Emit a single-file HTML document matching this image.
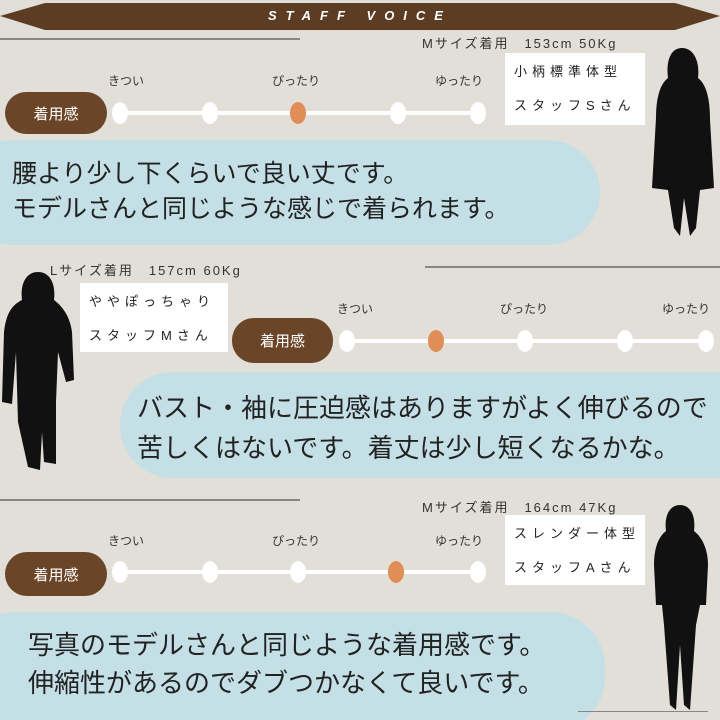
<!DOCTYPE html>
<html><head><meta charset="utf-8"><style>
*{margin:0;padding:0;box-sizing:border-box}
html,body{width:720px;height:720px;overflow:hidden}
body{background:#e2ded8;position:relative;font-family:"Liberation Sans","Noto Sans CJK JP",sans-serif;color:#222}
.a{position:absolute;white-space:nowrap}
.hl{position:absolute;height:2px;background:#8a8580}
.info{font-size:13px;letter-spacing:2px;color:#333}
.lab{font-size:12px;color:#333}
.pill{position:absolute;background:#6b4527;color:#fff;border-radius:22px;font-size:15px;display:flex;align-items:center;justify-content:center}
.bar{position:absolute;height:4px;background:#fff}
.dot{position:absolute;width:16px;height:22px;border-radius:50%;background:#fff;margin-left:-8px;margin-top:-11px}
.dot.o{background:#e08d58}
.box{position:absolute;background:#fff;font-size:13px;letter-spacing:5px;line-height:34px;padding-left:9px;padding-top:2px;color:#222;white-space:nowrap;overflow:hidden}
.bub{position:absolute;background:#c4dfe6;border-radius:55px;font-size:25px;line-height:35px;color:#222;white-space:nowrap}
</style></head><body>
<svg class="a" style="left:0;top:0" width="720" height="32"><polygon points="0,16 45,3 675,3 720,16 675,30 45,30" fill="#5c3d23"/></svg>
<div class="a" style="left:0;top:8px;width:720px;text-align:center;color:#fff;font-size:13px;font-weight:bold;font-style:italic;letter-spacing:9px">STAFF VOICE</div>

<!-- section 1 -->
<div class="hl" style="left:0;top:38px;width:300px"></div>
<div class="a info" style="left:422px;top:33px">Mサイズ着用　153cm 50Kg</div>
<div class="a lab" style="left:108px;top:72px">きつい</div>
<div class="a lab" style="left:272px;top:72px">ぴったり</div>
<div class="a lab" style="left:435px;top:72px">ゆったり</div>
<div class="pill" style="left:5px;top:92px;width:102px;height:42px">着用感</div>
<div class="bar" style="left:120px;top:111px;width:358px"></div>
<div class="dot" style="left:120px;top:113px"></div><div class="dot" style="left:210px;top:113px"></div><div class="dot o" style="left:298px;top:113px"></div><div class="dot" style="left:398px;top:113px"></div><div class="dot" style="left:478px;top:113px"></div>
<div class="box" style="left:505px;top:53px;width:140px;height:72px">小柄標準体型<br>スタッフSさん</div>
<div class="bub" style="left:-40px;top:140px;width:640px;height:105px;padding:17px 0 0 52px">腰より少し下くらいで良い丈です。<br>モデルさんと同じような感じで着られます。</div>
<svg class="a" style="left:648px;top:48px" width="70" height="190"><path d="M34 0 C22 0 18 14 20 30 C12 36 8 50 8 70 L4 140 L20 142 L26 180 L32 188 L36 150 L42 188 L48 180 L52 142 L66 140 L62 72 C62 50 58 36 50 30 C52 14 46 0 34 0Z" fill="#111"/></svg>

<!-- section 2 -->
<div class="a info" style="left:50px;top:260px">Lサイズ着用　157cm 60Kg</div>
<div class="hl" style="left:425px;top:266px;width:295px"></div>
<div class="box" style="left:80px;top:283px;width:148px;height:69px">ややぽっちゃり<br>スタッフMさん</div>
<div class="a lab" style="left:337px;top:300px">きつい</div>
<div class="a lab" style="left:500px;top:300px">ぴったり</div>
<div class="a lab" style="left:662px;top:300px">ゆったり</div>
<div class="pill" style="left:232px;top:318px;width:101px;height:45px">着用感</div>
<div class="bar" style="left:347px;top:339px;width:360px"></div>
<div class="dot" style="left:347px;top:341px"></div><div class="dot o" style="left:436px;top:341px"></div><div class="dot" style="left:525px;top:341px"></div><div class="dot" style="left:625px;top:341px"></div><div class="dot" style="left:706px;top:341px"></div>
<div class="bub" style="left:120px;top:372px;width:650px;height:106px;padding:16px 0 0 17px;font-size:26px;line-height:40px">バスト・袖に圧迫感はありますがよく伸びるので<br>苦しくはないです。着丈は少し短くなるかな。</div>
<svg class="a" style="left:0;top:272px" width="80" height="202"><path d="M38 0 C26 0 20 12 22 28 C10 34 6 44 4 60 L2 130 L12 132 L16 80 L18 150 L28 195 L40 198 L42 160 L44 190 L56 192 L56 130 L58 80 L66 110 L74 108 L72 60 C70 44 62 34 54 28 C56 12 50 0 38 0Z" fill="#111"/></svg>

<!-- section 3 -->
<div class="hl" style="left:0;top:499px;width:300px"></div>
<div class="a info" style="left:422px;top:497px">Mサイズ着用　164cm 47Kg</div>
<div class="a lab" style="left:108px;top:532px">きつい</div>
<div class="a lab" style="left:272px;top:532px">ぴったり</div>
<div class="a lab" style="left:435px;top:532px">ゆったり</div>
<div class="pill" style="left:5px;top:552px;width:102px;height:44px">着用感</div>
<div class="bar" style="left:120px;top:570px;width:358px"></div>
<div class="dot" style="left:120px;top:572px"></div><div class="dot" style="left:210px;top:572px"></div><div class="dot" style="left:298px;top:572px"></div><div class="dot o" style="left:396px;top:572px"></div><div class="dot" style="left:478px;top:572px"></div>
<div class="box" style="left:505px;top:515px;width:140px;height:70px">スレンダー体型<br>スタッフAさん</div>
<div class="bub" style="left:-40px;top:612px;width:645px;height:120px;padding:14px 0 0 68px;font-size:26px;line-height:38px">写真のモデルさんと同じような着用感です。<br>伸縮性があるのでダブつかなくて良いです。</div>
<svg class="a" style="left:650px;top:505px" width="62" height="210"><path d="M30 0 C20 0 14 10 16 26 C8 32 4 44 4 60 L6 100 L12 100 L14 120 L20 200 L26 205 L30 140 L34 200 L40 205 L46 120 L50 100 L56 100 L58 60 C58 44 52 32 44 26 C46 10 40 0 30 0Z" fill="#111"/></svg>
<div class="hl" style="left:578px;top:711px;width:130px;height:1px"></div>
</body></html>
